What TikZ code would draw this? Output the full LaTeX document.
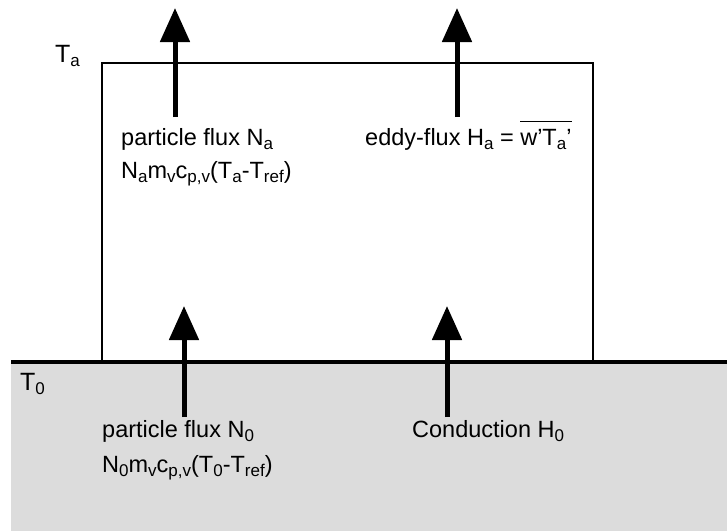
\documentclass[tikz,border=0pt]{standalone}
\usepackage{fontspec}
\setmainfont{Liberation Sans}
\usetikzlibrary{arrows.meta}
\definecolor{ground}{HTML}{DCDCDC}
\newcommand{\lowx}[1]{\raisebox{-4.5pt}{\fontsize{17}{17}\selectfont #1}}
\newcommand{\barover}[1]{\leavevmode\vbox{\hrule height 1.1pt \kern 7pt \hbox{#1}}}

\begin{document}
\begin{tikzpicture}[x=1pt, y=-1pt,
  flux/.style={-{Triangle[width=29pt,length=34pt]}, line width=5pt},
  lbl/.style={anchor=base west, inner sep=0pt, font=\fontsize{23.5}{28}\selectfont},
  temp/.style={anchor=base west, inner sep=0pt, font=\fontsize{25}{30}\selectfont},
]
\useasboundingbox (0,0) rectangle (727,531);
\fill[ground] (11,362) rectangle (727,531);
\draw[line width=1.2pt] (102,362) |- (593,63) -- (593,362);
\draw[line width=4pt] (11,362) -- (727,362);
\coordinate (pa0) at (175,117);
\coordinate (pa1) at (175,8);
\coordinate (ha0) at (457,117);
\coordinate (ha1) at (457,8);
\coordinate (p00) at (184,417);
\coordinate (p01) at (184,306);
\coordinate (h00) at (447,417);
\coordinate (h01) at (447,306);
\draw[flux] (pa0) -- (pa1);
\draw[flux] (ha0) -- (ha1);
\draw[flux] (p00) -- (p01);
\draw[flux] (h00) -- (h01);
\node[temp] (Ta) at (55,62) {T\lowx{a}};
\node[temp] (T0) at (20,390) {T\lowx{0}};
\node[lbl] (pfa) at (121,145) {particle flux N\lowx{a}};
\node[lbl] (ena) at (121,178) {N\lowx{a}m\lowx{v}c\lowx{p,v}(T\lowx{a}-T\lowx{ref})};
\node[lbl] (eddy) at (365,145) {eddy-flux H\lowx{a} = \barover{w'T\lowx{a}'}};
\node[lbl] (pf0) at (102,437) {particle flux N\lowx{0}};
\node[lbl] (en0) at (102,472) {N\lowx{0}m\lowx{v}c\lowx{p,v}(T\lowx{0}-T\lowx{ref})};
\node[lbl] (cond) at (412,437) {Conduction H\lowx{0}};
\end{tikzpicture}
\end{document}
